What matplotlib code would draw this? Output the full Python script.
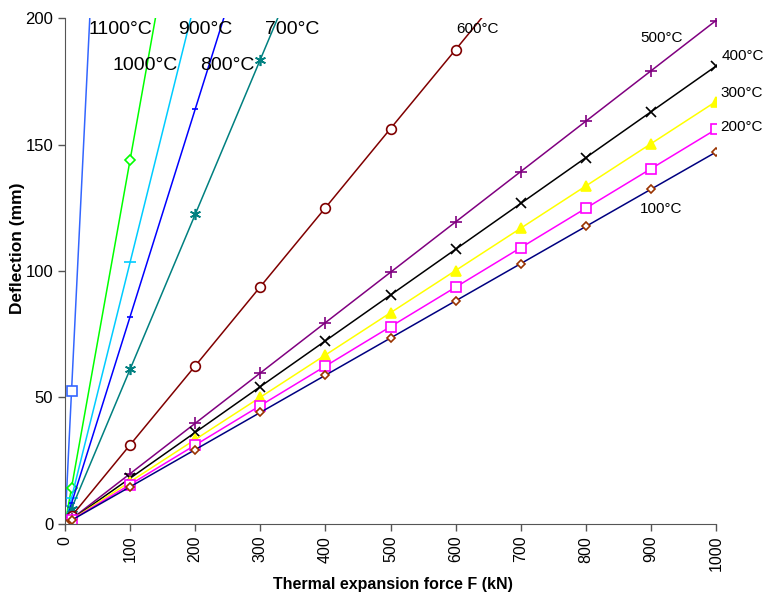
import matplotlib
matplotlib.use("Agg")
import matplotlib.pyplot as plt

plt.rcParams['font.family'] = ['Liberation Sans', 'DejaVu Sans']

force = [0, 1, 10, 100, 200, 300, 400, 500, 600, 700, 800, 900, 1000]

d100 = [0, 0.15, 1.5, 14.7, 29.4, 44.1, 58.8, 73.5, 88.2, 102.9, 117.6, 132.3, 147.0]
d200 = [0, 0.16, 1.6, 15.6, 31.2, 46.8, 62.4, 78.0, 93.6, 109.2, 124.8, 140.4, 156.0]
d300 = [0, 0.17, 1.7, 16.7, 33.4, 50.1, 66.8, 83.5, 100.2, 116.9, 133.6, 150.3, 167.0]
d400 = [0, 0.18, 1.8, 18.1, 36.2, 54.3, 72.4, 90.5, 108.6, 126.7, 144.8, 162.9, 181.0]
d500 = [0, 0.2, 2.0, 19.9, 39.8, 59.7, 79.6, 99.5, 119.4, 139.3, 159.2, 179.1, 199.0]
d600 = [0, 0.31, 3.1, 31.3, 62.5, 93.8, 125.0, 156.3, 187.5, 218.8, 250.0, 281.3, 312.5]
d700 = [0, 0.61, 6.1, 61.2, 122.4, 183.6, 244.8, 306.0, 367.2, 428.4, 489.6, 550.8, 612.0]
d800 = [0, 0.82, 8.2, 82.0, 164.0, 246.0, 328.0, 410.0, 492.0, 574.0, 656.0, 738.0, 820.0]
d900 = [0, 1.04, 10.4, 103.5, 207.0, 310.5, 414.0, 517.5, 621.0, 724.5, 828.0, 931.5, 1035.0]
d1000 = [0, 1.44, 14.4, 144.0, 288.0, 432.0, 576.0, 720.0, 864.0, 1008.0, 1152.0, 1296.0, 1440.0]
d1100 = [0, 5.26, 52.6, 526.0, 1052.0, 1578.0, 2104.0, 2630.0, 3156.0, 3682.0, 4208.0, 4734.0, 5260.0]

x_ticks = [0, 100, 200, 300, 400, 500, 600, 700, 800, 900, 1000]
y_ticks = [0, 50, 100, 150, 200]

fig = plt.figure(figsize=(7.66, 5.97), dpi=100)
ax = fig.add_axes([0.0849, 0.1223, 0.8498, 0.8475])

# (data, line colour, marker, marker face, marker edge, marker size)
series = [
    (d1100, '#3366FF', 's', 'white', '#3366FF', 7),
    (d1000, '#00FF00', 'D', 'white', '#00FF00', 5),
    (d900, '#00CCFF', '_', '#00CCFF', '#00CCFF', 9),
    (d800, '#0000FF', '_', '#0000FF', '#0000FF', 5),
    (d700, '#008080', (6, 2, 0), '#008080', '#008080', 8),
    (d600, '#800000', 'o', 'white', '#800000', 7),
    (d500, '#800080', '+', '#800080', '#800080', 8),
    (d400, '#000000', 'x', '#000000', '#000000', 7),
    (d300, '#FFFF00', '^', '#FFFF00', '#FFFF00', 7),
    (d200, '#FF00FF', 's', 'white', '#FF00FF', 7),
    (d100, '#000080', 'D', 'white', '#993300', 4),
]
for vals, col, mk, mfc, mec, ms in series:
    ax.plot(force, vals, color=col, lw=1.1, marker=mk, markerfacecolor=mfc,
            markeredgecolor=mec, markersize=ms, markeredgewidth=1.2)

ax.set_xlim(0, 1000)
ax.set_ylim(0, 200)
ax.set_xticks(x_ticks)
ax.set_yticks(y_ticks)
ax.set_xticklabels([str(t) for t in x_ticks], rotation=90, fontsize=11.5)
ax.tick_params(axis='y', labelsize=12, direction='out', length=5, width=1, colors='#555555', labelcolor='black')
ax.tick_params(axis='x', direction='out', length=5, width=1, colors='#555555', labelcolor='black')
for s in ['top', 'right']:
    ax.spines[s].set_visible(False)
for s in ['left', 'bottom']:
    ax.spines[s].set_color('#555555')

fig.text(393 / 766, 1 - 585 / 597, 'Thermal expansion force F (kN)', fontsize=11.5,
         fontweight='bold', ha='center', va='center')
fig.text(18 / 766, 1 - 248 / 597, 'Deflection (mm)', fontsize=12.5, fontweight='bold',
         rotation=90, ha='center', va='center')

big = [('1100°C', 88, 30), ('900°C', 178, 30), ('700°C', 265, 30),
       ('1000°C', 112, 65), ('800°C', 200, 65)]
for txt, px, py in big:
    fig.text(px / 766, 1 - py / 597, txt, fontsize=14, ha='left', va='center')

small = [('600°C', 456, 29), ('500°C', 640, 38), ('400°C', 722, 56),
         ('300°C', 720, 93), ('200°C', 720, 127), ('100°C', 640, 209)]
for txt, px, py in small:
    fig.text(px / 766, 1 - py / 597, txt, fontsize=11, ha='left', va='center')

fig.savefig('out.png', dpi=100)
